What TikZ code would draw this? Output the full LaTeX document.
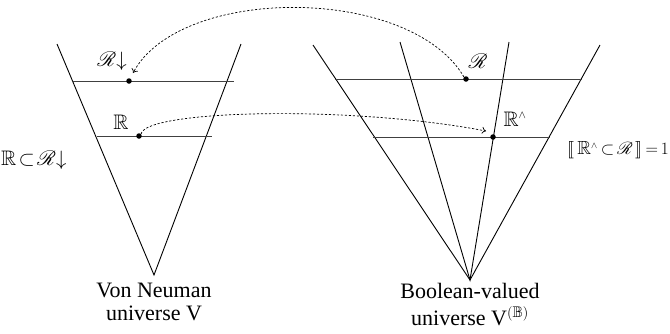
\documentclass[tikz,border=0pt]{standalone}
\usepackage{amssymb,mathrsfs,stmaryrd}
\usepackage{fontspec}
\setmainfont{Liberation Serif}
\usetikzlibrary{arrows.meta}
\begin{document}
\begin{tikzpicture}[x=1pt,y=-1pt,
  cone/.style={line width=0.9pt,black},
  level/.style={line width=0.9pt,black!75},
  dotnode/.style={circle,fill=black,inner sep=0pt,minimum size=5.5pt},
  link/.style={line width=0.7pt,dash pattern=on 2.2pt off 1.8pt,-{To[length=4pt,width=7pt]}},
  lbl/.style={inner sep=0pt,font=\fontsize{21}{24}\selectfont},
  txt/.style={inner sep=0pt,align=center,font=\fontsize{22}{22}\selectfont}]
\useasboundingbox (0,0) rectangle (670,333);
% left cone
\coordinate (LTL) at (57,44);
\coordinate (LTR) at (241,44);
\coordinate (LA) at (154,275);
\draw[cone] (LTL) -- (LA) -- (LTR);
\coordinate (LU1) at (73,81); \coordinate (LU2) at (234,81);
\coordinate (LL1) at (97,136); \coordinate (LL2) at (212,136);
\draw[level] (LU1) -- (LU2);
\draw[level] (LL1) -- (LL2);
\node[dotnode] (RD) at (129,81) {};
\node[dotnode] (Rb) at (139,136) {};
% right cone
\coordinate (RTL) at (313,45);
\coordinate (RTR) at (600,45);
\coordinate (RA) at (470,280);
\coordinate (RI1) at (400,42);
\coordinate (RI2) at (509,42);
\draw[cone] (RTL) -- (RA) -- (RTR);
\draw[cone] (RI1) -- (RA) -- (RI2);
\coordinate (RU1) at (335,79); \coordinate (RU2) at (582,79);
\coordinate (RL1) at (373,137); \coordinate (RL2) at (550,137);
\draw[level] (RU1) -- (RU2);
\draw[level] (RL1) -- (RL2);
\node[dotnode] (Rs) at (466,79) {};
\node[dotnode] (Rh) at (493,137) {};
% labels
\node[lbl] (lRd) at (112,61) {$\mathscr{R}{\downarrow}$};
\node[lbl] (lRb) at (121,122) {$\mathbb{R}$};
\node[lbl] (lRs) at (478,61) {$\mathscr{R}$};
\node[lbl] (lRh) at (515,119) {$\mathbb{R}^{\scriptscriptstyle\wedge}$};
\node[lbl,anchor=west] (left) at (1,160) {$\mathbb{R}\!\subset\!\mathscr{R}{\downarrow}$};
\node[lbl,anchor=east,font=\fontsize{19}{22}\selectfont] (right) at (669,150) {$\llbracket\,\mathbb{R}^{\scriptscriptstyle\wedge}\,{\subset}\,\mathscr{R}\,\rrbracket\,{=}\,1$};
\node[txt,anchor=north] (vn) at (154,283) {Von Neuman\\[1pt]universe V};
\node[txt,anchor=north] (bv) at (470,283) {Boolean-valued\\[5pt]universe V$^{(\mathbb{B})}$};
% arcs
\coordinate (tipA) at (133,73);
\coordinate (tipB) at (486,131);
\draw[link] (Rs.north west) .. controls (410,-15) and (180,-15) .. (tipA);
\draw[link] (Rb.north east) .. controls (145,110) and (350,105) .. (tipB);
\end{tikzpicture}
\end{document}
